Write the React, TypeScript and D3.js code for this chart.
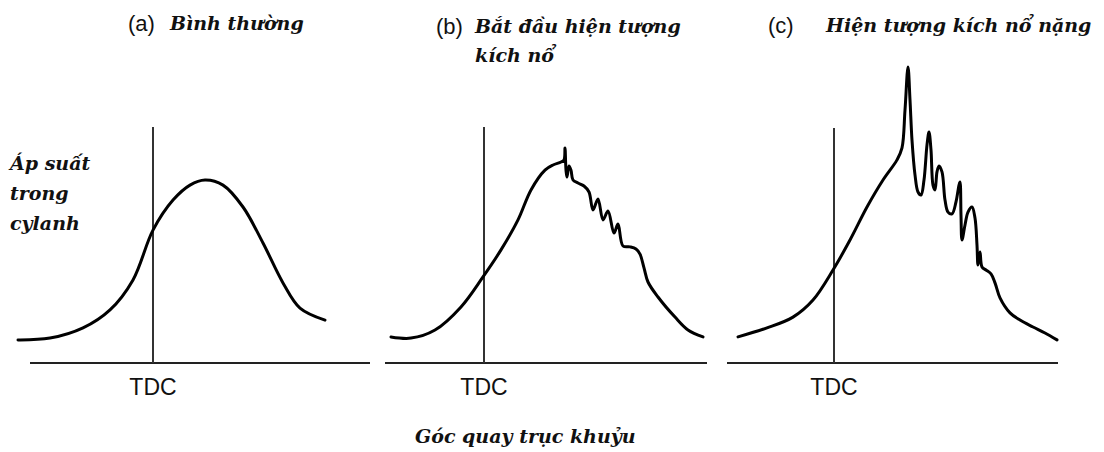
import React from "react";
import * as d3 from "d3";

// Crank angle (deg, TDC = 0) and cylinder pressure (arbitrary units)
const normalAngle = [-67.5, -51.5, -35, -21.5, -10, 0, 10, 18.5, 26, 35, 45, 55, 65, 73.5, 86];
const normalPressure = [7.7, 8.3, 11.7, 17.7, 27.7, 44.3, 54.3, 59.3, 61, 59.3, 52, 40, 26.7, 18.3, 14.3];

const lightAngle = [-46.5, -36.5, -24.5, -11.5, -0.5, 8.5, 17, 23.5, 30.5, 34.5, 38.5, 40, 40.5, 41, 41.5, 42.5, 43.5, 44.5, 47, 50, 52.5, 54.5, 57, 59.5, 62, 65, 67, 69.5, 73, 76, 78, 80, 82, 87, 95.5, 102, 109.5];
const lightPressure = [8.7, 8.3, 11, 18.7, 28.7, 37.7, 47.7, 57.7, 64.3, 66, 67, 67.7, 71.7, 64.3, 62, 65.7, 64.3, 61, 60, 59, 57, 51, 54.7, 47.7, 50.7, 43.3, 46.3, 39, 38.7, 38, 36.3, 31.7, 27, 22, 15.3, 11, 8.7];

const heavyAngle = [-48, -33.5, -20.5, -10.5, -0.5, 8, 16.5, 24.5, 31.5, 34, 35.5, 37, 38, 39, 40.5, 42, 43.5, 45, 46.5, 47.5, 48.5, 49.5, 50.5, 51.5, 52.5, 54, 55.5, 57, 59, 61, 62.5, 63, 63.5, 64, 65.5, 67, 69, 70.5, 71.5, 72, 73, 74, 76, 78.5, 80.5, 83, 88, 93, 99.5, 105.5, 111.5];
const heavyPressure = [8.7, 11.7, 15.3, 21, 31, 41, 52, 61, 67.7, 71.7, 84.3, 98.7, 87.7, 74.3, 62.7, 57, 56, 61, 72.7, 77, 71, 59.3, 57.7, 63.7, 65.7, 63.7, 54.3, 50.3, 49.7, 53.7, 59.3, 60.3, 49.3, 41, 46, 50.3, 52, 48.3, 39.3, 32.7, 37, 32, 31, 29.7, 26.7, 21.7, 16.7, 14.3, 12, 10, 7.7];

const panelLetters = ["(a)", "(b)", "(c)"];
const panelTitles = [["Bình thường"], ["Bắt đầu hiện tượng", "kích nổ"], ["Hiện tượng kích nổ nặng"]];
const tdcLabel = "TDC";
const yLabelLines = ["Áp suất", "trong", "cylanh"];
const xLabel = "Góc quay trục khuỷu";

const W = 1104;
const H = 452;
const baseY = 363;
const serif = "'DejaVu Serif', serif";
const sans = "'Liberation Sans', Arial, sans-serif";

const panels = [
  { tdcX: 153, axis: [30, 370], angle: normalAngle, pressure: normalPressure, letterX: 128, titleX: 170, titleY: 30, vTop: 127 },
  { tdcX: 484, axis: [385, 707], angle: lightAngle, pressure: lightPressure, letterX: 436, titleX: 475, titleY: 33, vTop: 127 },
  { tdcX: 834, axis: [727, 1058], angle: heavyAngle, pressure: heavyPressure, letterX: 768, titleX: 826, titleY: 32, vTop: 128 },
];

const yScale = d3.scaleLinear().domain([0, 100]).range([baseY, baseY - 300]);

export default function App() {
  return (
    <svg width={W} height={H} style={{ position: "absolute", left: 0, top: 0, background: "#fff" }}>
      {panels.map((p, i) => {
        const xScale = d3.scaleLinear().domain([0, 100]).range([p.tdcX, p.tdcX + 200]);
        const line = d3
          .line<number>()
          .x((_, j) => xScale(p.angle[j]))
          .y((_, j) => yScale(p.pressure[j]))
          .curve(d3.curveCatmullRom.alpha(0.5));
        return (
          <g key={i}>
            <line x1={p.axis[0]} x2={p.axis[1]} y1={baseY} y2={baseY} stroke="#222" strokeWidth={2} />
            <line x1={xScale(0)} x2={xScale(0)} y1={p.vTop} y2={baseY} stroke="#333" strokeWidth={2} />
            <path d={line(p.angle) || ""} fill="none" stroke="#000" strokeWidth={3} strokeLinejoin="round" strokeLinecap="round" />
            <text x={xScale(0)} y={395} textAnchor="middle" fontFamily={sans} fontSize={23} fill="#111">{tdcLabel}</text>
            <text x={p.letterX} y={p.titleY + 1} fontFamily={sans} fontSize={22} fill="#111">{panelLetters[i]}</text>
            {panelTitles[i].map((t, k) => (
              <text key={k} x={p.titleX} y={p.titleY + k * 29} fontFamily={serif} fontStyle="italic" fontWeight="bold" fontSize={19} fill="#111">{t}</text>
            ))}
          </g>
        );
      })}
      {yLabelLines.map((t, k) => (
        <text key={k} x={10} y={170 + k * 30} fontFamily={serif} fontStyle="italic" fontWeight="bold" fontSize={19} fill="#111">{t}</text>
      ))}
      <text x={415} y={443} fontFamily={serif} fontStyle="italic" fontWeight="bold" fontSize={19} fill="#111">{xLabel}</text>
    </svg>
  );
}
